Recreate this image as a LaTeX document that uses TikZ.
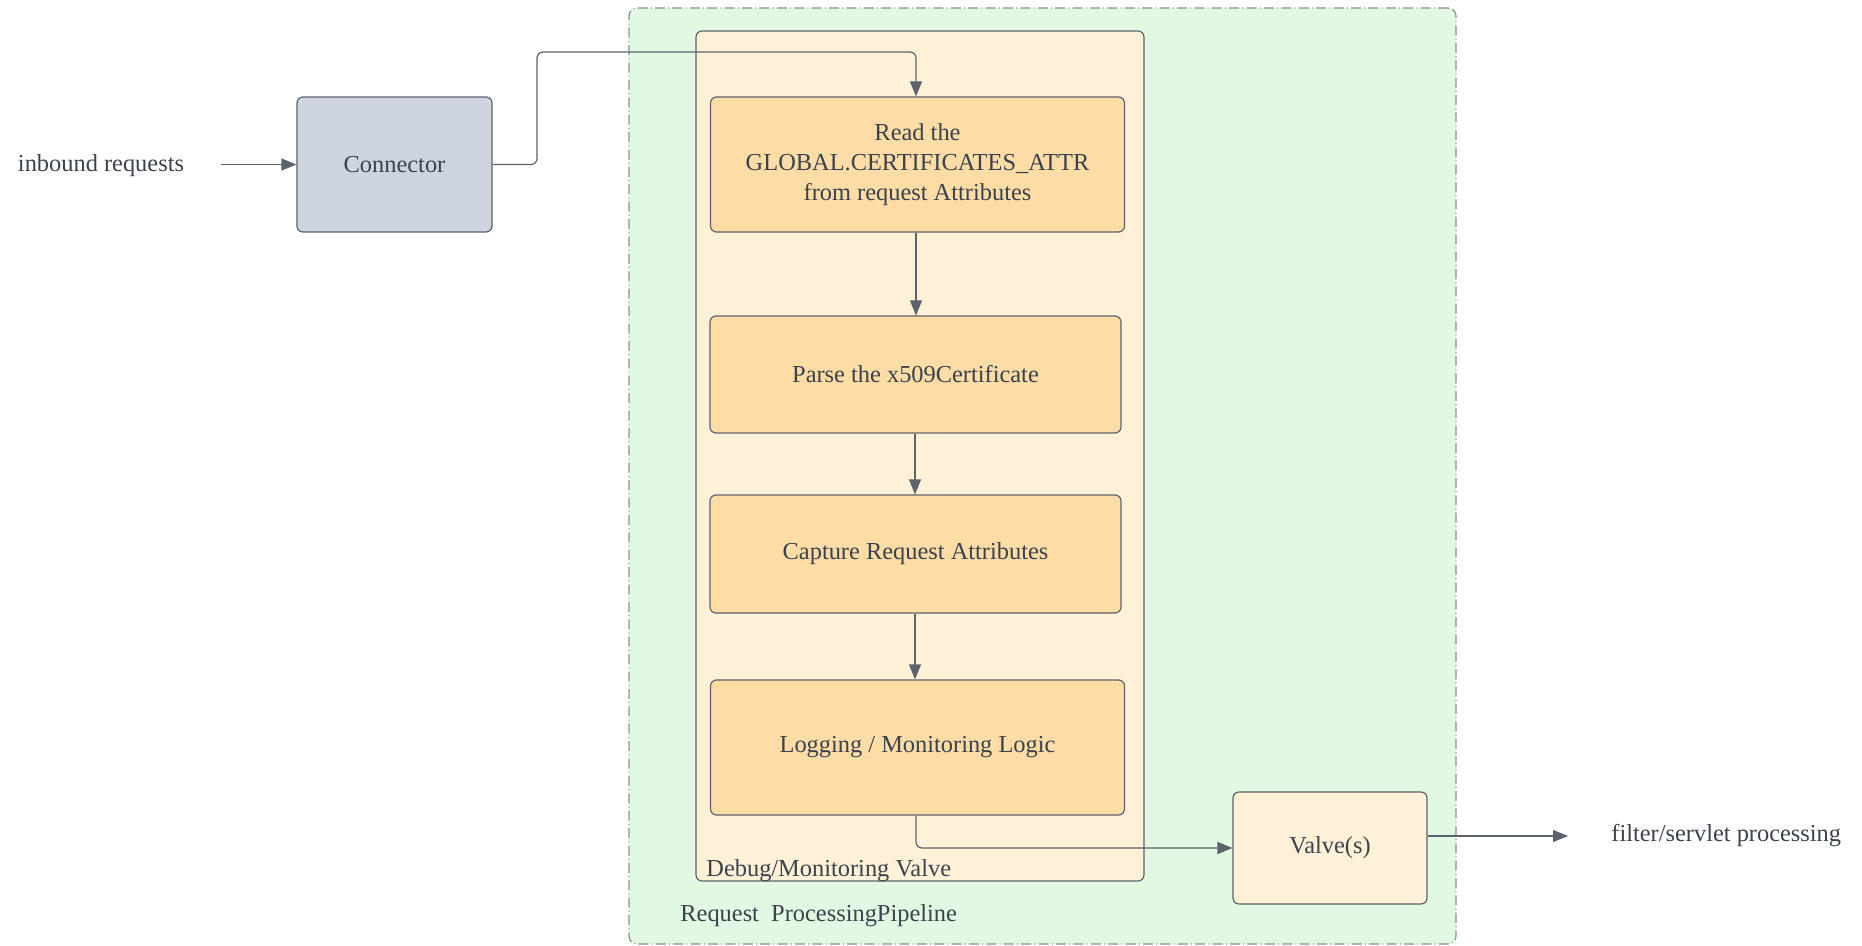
\documentclass[tikz,border=0pt]{standalone}
\usepackage{fontspec}
\setmainfont{Liberation Serif}
\usepackage{tikz}
\usetikzlibrary{calc,positioning,arrows.meta}
\usepackage{xcolor}
\definecolor{inkgray}{HTML}{3B424C}
\definecolor{edgegray}{HTML}{5C636D}
\definecolor{pipegreen}{HTML}{E1F9E2}
\definecolor{pipeedge}{HTML}{8A9098}
\definecolor{valvecream}{HTML}{FFF1D8}
\definecolor{steporange}{HTML}{FDDCA6}
\definecolor{connblue}{HTML}{CED5DE}

\begin{document}
\begin{tikzpicture}[
  x=0.5pt, y=-0.5pt,
  every node/.style={text=inkgray, font=\fontsize{12.2}{15}\selectfont},
  pipe/.style={draw=pipeedge, fill=pipegreen, line width=0.6pt, rounded corners=4pt,
    dash pattern=on 5pt off 1.6pt on 0.5pt off 1.6pt, minimum width=413.5pt, minimum height=468pt},
  container/.style={draw=edgegray, fill=valvecream, line width=0.6pt, rounded corners=3pt,
    minimum width=224pt, minimum height=425pt},
  stepbox/.style={draw=edgegray, fill=steporange, line width=0.6pt, rounded corners=3pt,
    align=center, minimum width=207pt},
  conn/.style={draw=edgegray, fill=connblue, line width=0.6pt, rounded corners=3pt,
    minimum width=97.5pt, minimum height=67.5pt},
  valve/.style={draw=edgegray, fill=valvecream, line width=0.6pt, rounded corners=3pt,
    minimum width=97pt, minimum height=56pt},
  lab/.style={inner sep=0pt},
  arrow/.style={-{Triangle[length=7.5pt,width=6pt]}, draw=edgegray, line width=0.6pt, rounded corners=3pt}
]
\useasboundingbox (0,0) rectangle (1862,946);

% containers
\node[pipe] (pipeline) at (1042.5,476) {};
\node[container] (debugvalve) at (920,456) {};
\node[lab, anchor=west] (pipelab) at (680,916) {Request\ \ ProcessingPipeline};
\node[lab, anchor=west] (debuglab) at (706,871) {Debug/Monitoring Valve};

% nodes
\node[lab] (inbound) at (101,165.5) {inbound requests};
\node[conn] (connector) at (394.5,164.5) {Connector};
\node[stepbox, minimum height=67.5pt] (read) at (917.5,164.5) {Read the\\GLOBAL.CERTIFICATES\_ATTR\\from request Attributes};
\node[stepbox, minimum width=205.5pt, minimum height=58.5pt] (parse) at (915.5,374.5) {Parse the x509Certificate};
\node[stepbox, minimum width=205.5pt, minimum height=59pt] (capture) at (915.5,554) {Capture Request Attributes};
\node[stepbox, minimum height=67.5pt] (logging) at (917.5,747.5) {Logging / Monitoring Logic};
\node[valve] (valves) at (1330,848) {Valve(s)};
\node[lab, anchor=west] (filter) at (1611,836) {filter/servlet processing};

% connectors
\draw[arrow] ([xshift=18.5pt]inbound.east |- connector.west) -- (connector.west);
\draw[arrow] (connector.east) -- (537,164.5) -- (537,52) -- (916,52) -- (read.north -| 916,0);
\draw[arrow] (read.south -| 916,0) -- (parse.north -| 916,0);
\draw[arrow] (parse.south -| 915,0) -- (capture.north -| 915,0);
\draw[arrow] (capture.south -| 915,0) -- (logging.north -| 915,0);
\draw[arrow] (logging.south -| 916,0) |- (valves.west);
\draw[arrow] (valves.east |- filter.west) -- ([xshift=-21.5pt]filter.west);
\end{tikzpicture}
\end{document}
